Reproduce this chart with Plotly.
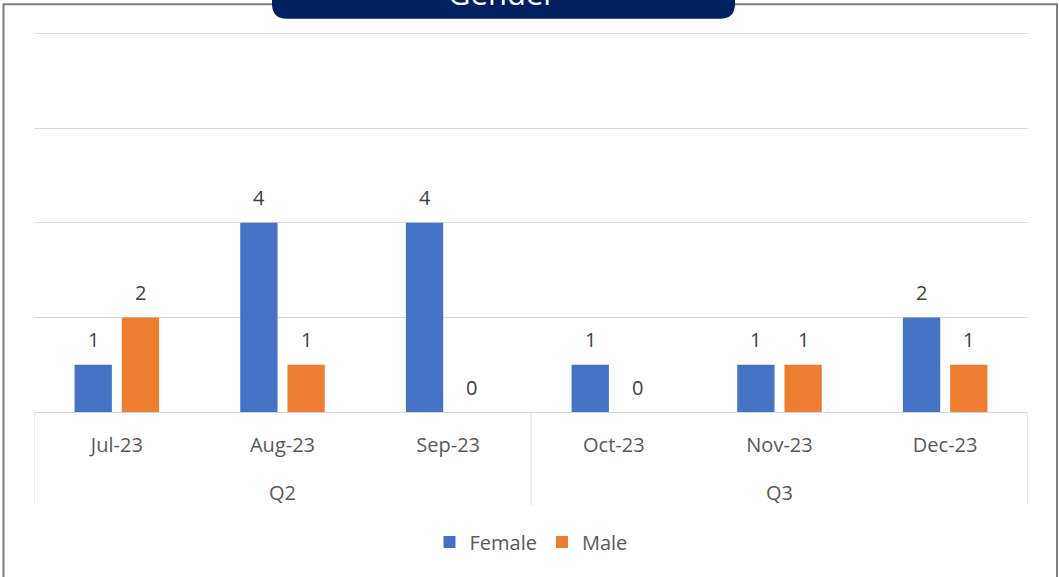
import plotly.graph_objects as go

quarters = ["Q2", "Q2", "Q2", "Q3", "Q3", "Q3"]
months = ["Jul-23", "Aug-23", "Sep-23", "Oct-23", "Nov-23", "Dec-23"]
female = [1, 4, 4, 1, 1, 2]
male = [2, 1, 0, 0, 1, 1]
series_names = ["Female", "Male"]
colors = ["#4472C4", "#ED7D31"]
title_text = "Gender"

W, H = 1059, 577
Y0_PX, Y8_PX = 412, 34          # pixel rows of value 0 and value 8
YMAX = 8.1
unit = (Y0_PX - Y8_PX) / 8
ML, MR = 34, 31
MB = H - Y0_PX
MT = Y0_PX - YMAX * unit
PW = W - ML - MR
PH = H - MT - MB


def px(x):
    return (x - ML) / PW


def py(y):
    return (H - MB - y) / PH


FONT = "Open Sans"
FS = 20
GRID = "#D9D9D9"

fig = go.Figure()
for name, vals, c in zip(series_names, [female, male], colors):
    fig.add_trace(go.Bar(
        x=months, y=vals, name=name,
        marker=dict(color=c, line=dict(width=0)),
        hoverinfo="skip",
    ))

# data labels
offset = 0.142
for k, vals in enumerate([female, male]):
    sgn = -1 if k == 0 else 1
    for i, v in enumerate(vals):
        fig.add_annotation(
            x=i + sgn * offset, y=v, xref="x", yref="y",
            text=str(v), showarrow=False, yshift=25,
            font=dict(family=FONT, size=FS, color="#404040"),
        )

# quarter level of the category axis: group labels and dividers
groups = []
for i, q in enumerate(quarters):
    if not groups or groups[-1][0] != q:
        groups.append([q, i, i])
    else:
        groups[-1][2] = i
bounds = sorted({g[1] - 0.5 for g in groups} | {g[2] + 0.5 for g in groups})
for b in bounds:
    fig.add_shape(type="line", xref="x", yref="paper", x0=b, x1=b,
                  y0=py(505), y1=py(412), line=dict(color=GRID, width=1))
for q, a, b in groups:
    fig.add_annotation(x=(a + b) / 2, y=py(492), xref="x", yref="paper",
                       text=q, showarrow=False, yanchor="middle",
                       font=dict(family=FONT, size=FS, color="#595959"))

# outer border
fig.add_shape(type="rect", xref="paper", yref="paper",
              x0=px(3.5), x1=px(1057), y0=py(600), y1=py(4.5),
              line=dict(color="#7F7F7F", width=2), layer="above")

# title tab
L, R, B, T = px(272), px(735), py(19), py(-12)
rx, ry = 15 / PW, 15 / PH
path = (f"M {L},{T} L {L},{B+ry} Q {L},{B} {L+rx},{B} "
        f"L {R-rx},{B} Q {R},{B} {R},{B+ry} L {R},{T} Z")
fig.add_shape(type="path", xref="paper", yref="paper", path=path,
              fillcolor="#002060", line=dict(width=0), layer="above")
fig.add_annotation(x=px(502), y=py(-6.5), xref="paper", yref="paper",
                   text=title_text, showarrow=False, yanchor="middle",
                   font=dict(family=FONT, size=31, color="white"))

fig.update_layout(
    width=W, height=H,
    margin=dict(l=ML, r=MR, t=MT, b=MB, autoexpand=False),
    paper_bgcolor="white", plot_bgcolor="white",
    barmode="group", bargap=0.43, bargroupgap=0.21,
    font=dict(family=FONT, size=FS, color="#595959"),
    showlegend=True,
    legend=dict(orientation="h", x=0.5, xanchor="center",
                y=py(542), yanchor="middle",
                font=dict(family=FONT, size=FS, color="#595959"),
                traceorder="normal"),
    xaxis=dict(type="category", showline=True, linecolor=GRID,
               linewidth=1, showgrid=False, ticks="",
               range=[-0.5, len(months) - 0.5],
               ticklabelstandoff=15,
               tickfont=dict(family=FONT, size=FS, color="#595959")),
    yaxis=dict(range=[0, YMAX], tickvals=[0, 2, 4, 6, 8],
               showticklabels=False,
               gridcolor=GRID, gridwidth=1, zeroline=False,
               fixedrange=True),
)

fig.write_html("out.html", config={"displayModeBar": False},
               post_script="document.body.style.margin='0';")
